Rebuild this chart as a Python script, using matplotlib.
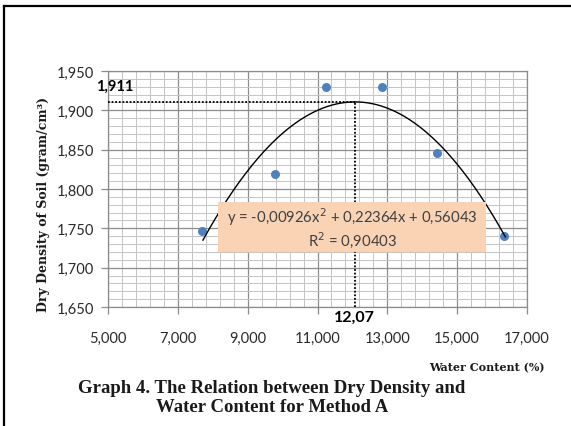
import numpy as np
import matplotlib
matplotlib.use("Agg")
import matplotlib.pyplot as plt
from matplotlib.ticker import FixedLocator, MultipleLocator, FuncFormatter
from matplotlib.lines import Line2D
from matplotlib.patches import Rectangle

# ---- data ----
water_content = [7.68, 9.78, 11.25, 12.84, 14.43, 16.35]
dry_density = [1.746, 1.819, 1.930, 1.930, 1.846, 1.740]
coef_a, coef_b, coef_c = -0.00926, 0.22364, 0.56043
r_squared = 0.90403
opt_water = 12.07
max_density = 1.911
x_ticks = [5, 7, 9, 11, 13, 15, 17]
y_ticks = [1.65, 1.70, 1.75, 1.80, 1.85, 1.90, 1.95]
equation_text = "y = -0,00926x$^2$ + 0,22364x + 0,56043\nR$^2$ = 0,90403"
max_label = "1,911"
opt_label = "12,07"
y_label = "Dry Density of Soil (gram/cm³)"
x_label = "Water Content (%)"
caption = "Graph 4. The Relation between Dry Density and\nWater Content for Method A"

fig = plt.figure(figsize=(5.71, 4.27), dpi=100)
ax = fig.add_axes([108/571, 1-308/427, (527-108)/571, (308-72)/427])

ax.set_xlim(5, 17)
ax.set_ylim(1.65, 1.95)
ax.xaxis.set_major_locator(FixedLocator(x_ticks))
ax.xaxis.set_minor_locator(FixedLocator(np.arange(5, 17.001, 0.4)))
ax.yaxis.set_major_locator(FixedLocator(y_ticks))
ax.yaxis.set_minor_locator(MultipleLocator(0.01))
ax.grid(which='major', color='#8c8c8c', lw=0.9, zorder=0)
ax.grid(which='minor', color='#c4c4c4', lw=0.7, zorder=0)
ax.set_axisbelow(True)
for s in ax.spines.values():
    s.set_color('#8c8c8c')
    s.set_linewidth(0.9)

fmt = FuncFormatter(lambda v, p: f"{v:.3f}".replace('.', ','))
ax.xaxis.set_major_formatter(fmt)
ax.yaxis.set_major_formatter(fmt)
ax.tick_params(which='major', direction='out', length=5, width=0.9, color='#8c8c8c',
               labelsize=10.5, labelcolor='#2a2a2a')
ax.tick_params(axis='x', pad=12)
ax.tick_params(axis='y', pad=5)
ax.tick_params(which='minor', length=0)
for lab in ax.get_xticklabels() + ax.get_yticklabels():
    lab.set_fontfamily('Lato')

# dotted guide lines
ax.plot([5, opt_water], [max_density, max_density], color='black', lw=1.3,
        linestyle=(0, (1, 1)), zorder=3)
ax.plot([opt_water, opt_water], [1.65, max_density], color='black', lw=1.3,
        linestyle=(0, (1, 1)), zorder=3)

# points
ax.scatter(water_content, dry_density, s=42, color='#4f81bd', zorder=4, linewidths=0)

# trend line
xs = np.linspace(7.72, 16.38, 200)
ys = coef_a * xs**2 + coef_b * xs + coef_c
ax.plot(xs, ys, color='black', lw=1.0, zorder=5)

# equation box
ax.add_patch(Rectangle((8.15, 1.7197), 15.83-8.15, 1.7833-1.7197,
                       facecolor='#fad3b4', edgecolor='none', zorder=6))
ax.text((8.15+15.83)/2, 1.7515, equation_text, ha='center', va='center',
        fontsize=10.7, family='Lato', color='#404040', zorder=7, linespacing=1.1)

# labels
ax.text(4.66, 1.931, max_label, ha='left', va='center', fontsize=10.5,
        family='Lato', fontweight='bold', color='black', clip_on=False)
fig.text(354/571, 1-318/427, opt_label, ha='center', va='center', fontsize=11.5,
         family='Lato', fontweight='bold', color='black')

fig.text(44/571, 1-204/427, y_label, rotation=90, ha='center', va='center',
         fontsize=9, family='DejaVu Serif', fontweight='bold', color='#1a1a1a')
fig.text(545/571, 1-368/427, x_label, ha='right', va='center',
         fontsize=8, family='DejaVu Serif', fontweight='bold', color='#1a1a1a')
fig.text(272/571, 1-398/427, caption, ha='center', va='center',
         fontsize=13.5, family='Liberation Serif', fontweight='bold', color='#1a1a1a',
         linespacing=1.15)

# outer frame (top and left)
fig.add_artist(Line2D([4/571, 1], [1-7/427, 1-7/427], color='black', lw=1.6,
                      transform=fig.transFigure))
fig.add_artist(Line2D([4/571, 4/571], [0, 1-7/427], color='black', lw=1.6,
                      transform=fig.transFigure))

fig.savefig('out.png', dpi=100)
